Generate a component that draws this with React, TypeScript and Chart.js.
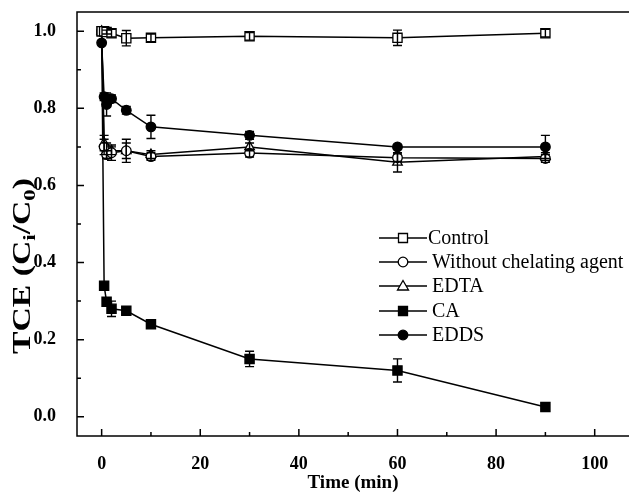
import React, { useEffect, useRef } from 'react';
import { Chart, registerables } from 'chart.js';

Chart.register(...registerables);

const times = [0, 0.5, 1, 2, 5, 10, 30, 60, 90];

const controlValues = [1.0, 1.0, 0.998, 0.995, 0.982, 0.983, 0.987, 0.983, 0.995];
const controlErrors = [0, 0, 0.005, 0.01, 0.02, 0.01, 0.01, 0.02, 0.01];

const withoutValues = [1.0, 0.7, 0.68, 0.685, 0.69, 0.675, 0.684, 0.672, 0.67];
const withoutErrors = [0, 0.02, 0.01, 0.02, 0.03, 0.01, 0.01, 0.01, 0.01];

const edtaValues = [1.0, 0.71, 0.69, 0.69, 0.69, 0.68, 0.7, 0.66, 0.675];
const edtaErrors = [0, 0.02, 0.02, 0.01, 0.02, 0.01, 0.01, 0.025, 0.01];

const caValues = [1.0, 0.34, 0.298, 0.28, 0.275, 0.24, 0.15, 0.12, 0.025];
const caErrors = [0, 0, 0.01, 0.02, 0.01, 0.01, 0.02, 0.03, 0.005];

const eddsValues = [0.97, 0.83, 0.81, 0.825, 0.795, 0.752, 0.73, 0.7, 0.7];
const eddsErrors = [0, 0.01, 0.03, 0.01, 0.01, 0.03, 0.01, 0.005, 0.03];

const seriesNames = ['Control', 'Without chelating agent', 'EDTA', 'CA', 'EDDS'];

const xMajorTicks = [0, 20, 40, 60, 80, 100];
const xMinorTicks = [10, 30, 50, 70, 90];
const yMajorTicks = [0, 0.2, 0.4, 0.6, 0.8, 1.0];
const yMinorTicks = [0.1, 0.3, 0.5, 0.7, 0.9];

const xTitle = 'Time (min)';

const SERIF = '"Liberation Serif", "Times New Roman", serif';

type Style = { shape: 'rect' | 'circle' | 'triangle'; filled: boolean };
const styles: Style[] = [
  { shape: 'rect', filled: false },
  { shape: 'circle', filled: false },
  { shape: 'triangle', filled: false },
  { shape: 'rect', filled: true },
  { shape: 'circle', filled: true },
];

const valueSets = [controlValues, withoutValues, edtaValues, caValues, eddsValues];
const errorSets = [controlErrors, withoutErrors, edtaErrors, caErrors, eddsErrors];

function drawMarker(ctx: CanvasRenderingContext2D, x: number, y: number, s: Style) {
  ctx.save();
  ctx.lineWidth = 1.3;
  ctx.strokeStyle = '#000';
  ctx.fillStyle = s.filled ? '#000' : '#fff';
  ctx.beginPath();
  if (s.shape === 'rect') {
    ctx.rect(x - 4.5, y - 4.5, 9, 9);
  } else if (s.shape === 'circle') {
    ctx.arc(x, y, 4.8, 0, Math.PI * 2);
  } else {
    ctx.moveTo(x, y - 5.5);
    ctx.lineTo(x + 5.5, y + 4);
    ctx.lineTo(x - 5.5, y + 4);
    ctx.closePath();
  }
  ctx.fill();
  ctx.stroke();
  ctx.restore();
}

const decorPlugin = {
  id: 'decor',
  afterDatasetsDraw(chart: any) {
    const ctx: CanvasRenderingContext2D = chart.ctx;
    const ys = chart.scales.y;
    ctx.save();
    ctx.strokeStyle = '#000';
    ctx.lineWidth = 1.4;
    chart.data.datasets.forEach((ds: any, i: number) => {
      const meta = chart.getDatasetMeta(i);
      const errs: number[] = ds.errors || [];
      meta.data.forEach((pt: any, j: number) => {
        const e = errs[j];
        if (!e) return;
        const v = ds.data[j].y;
        const y1 = ys.getPixelForValue(v + e);
        const y2 = ys.getPixelForValue(v - e);
        ctx.beginPath();
        ctx.moveTo(pt.x, y1);
        ctx.lineTo(pt.x, y2);
        ctx.moveTo(pt.x - 4.5, y1);
        ctx.lineTo(pt.x + 4.5, y1);
        ctx.moveTo(pt.x - 4.5, y2);
        ctx.lineTo(pt.x + 4.5, y2);
        ctx.stroke();
      });
    });
    ctx.restore();
  },
  afterDraw(chart: any) {
    const ctx: CanvasRenderingContext2D = chart.ctx;
    const { left, right, top, bottom } = chart.chartArea;
    const xs = chart.scales.x;
    const ys = chart.scales.y;
    ctx.save();
    ctx.strokeStyle = '#000';
    ctx.lineWidth = 1.5;
    ctx.strokeRect(left, top, right - left, bottom - top);
    ctx.beginPath();
    xMajorTicks.forEach((t) => {
      const px = xs.getPixelForValue(t);
      ctx.moveTo(px, bottom);
      ctx.lineTo(px, bottom - 7);
    });
    xMinorTicks.forEach((t) => {
      const px = xs.getPixelForValue(t);
      ctx.moveTo(px, bottom);
      ctx.lineTo(px, bottom - 4);
    });
    yMajorTicks.forEach((t) => {
      const py = ys.getPixelForValue(t);
      ctx.moveTo(left, py);
      ctx.lineTo(left + 7, py);
    });
    yMinorTicks.forEach((t) => {
      const py = ys.getPixelForValue(t);
      ctx.moveTo(left, py);
      ctx.lineTo(left + 4, py);
    });
    ctx.stroke();

    // x-axis title
    ctx.fillStyle = '#000';
    ctx.font = `bold 19px ${SERIF}`;
    ctx.textAlign = 'center';
    ctx.textBaseline = 'middle';
    ctx.fillText(xTitle, 353, 483);
    ctx.textAlign = 'left';

    // y-axis title with subscripts
    ctx.save();
    ctx.translate(24, 266);
    ctx.rotate(-Math.PI / 2);
    ctx.fillStyle = '#000';
    ctx.textBaseline = 'middle';
    const big = `bold 25px ${SERIF}`;
    const small = `bold 17px ${SERIF}`;
    const parts: [string, boolean][] = [['TCE (C', false], ['i', true], ['/C', false], ['0', true], [')', false]];
    let total = 0;
    parts.forEach(([t, sub]) => {
      ctx.font = sub ? small : big;
      total += ctx.measureText(t).width;
    });
    const targetLen = 176;
    ctx.scale(targetLen / total, 1);
    let cx = -total / 2;
    parts.forEach(([t, sub]) => {
      ctx.font = sub ? small : big;
      ctx.fillText(t, cx, sub ? 7 : 0);
      cx += ctx.measureText(t).width;
    });
    ctx.restore();

    // legend
    const rowY = [238, 262, 286, 311, 335];
    seriesNames.forEach((name, i) => {
      const y = rowY[i];
      ctx.beginPath();
      ctx.lineWidth = 1.4;
      ctx.strokeStyle = '#000';
      ctx.moveTo(379, y);
      ctx.lineTo(427, y);
      ctx.stroke();
      drawMarker(ctx, 403, y, styles[i]);
      ctx.fillStyle = '#000';
      ctx.font = `20px ${SERIF}`;
      ctx.textBaseline = 'middle';
      ctx.fillText(name, i === 0 ? 428 : 432, y + 1);
    });
    ctx.restore();
  },
};

export default function App() {
  const ref = useRef<HTMLCanvasElement | null>(null);
  useEffect(() => {
    if (!ref.current) return;
    const datasets = seriesNames.map((name, i) => {
      const s = styles[i];
      return {
        label: name,
        data: times.map((t, j) => ({ x: t, y: valueSets[i][j] })),
        errors: errorSets[i],
        borderColor: '#000',
        borderWidth: 1.5,
        backgroundColor: s.filled ? '#000' : '#fff',
        pointBackgroundColor: s.filled ? '#000' : '#fff',
        pointBorderColor: '#000',
        pointBorderWidth: 1.3,
        pointStyle: s.shape === 'rect' ? 'rect' : s.shape === 'circle' ? 'circle' : 'triangle',
        pointRadius: s.shape === 'rect' ? 6.5 : s.shape === 'circle' ? 4.8 : 5.5,
        showLine: true,
        tension: 0,
        fill: false,
      };
    });
    const noPad = (scale: any) => {
      scale.paddingTop = 0;
      scale.paddingBottom = 0;
      scale.paddingLeft = 0;
      scale.paddingRight = 0;
    };
    const chart = new Chart(ref.current, {
      type: 'line',
      data: { datasets } as any,
      options: {
        animation: false,
        responsive: false,
        maintainAspectRatio: false,
        layout: { padding: { top: 12, right: 16, left: 0, bottom: 0 } },
        plugins: { legend: { display: false }, tooltip: { enabled: false } },
        scales: {
          x: {
            type: 'linear',
            min: -5,
            max: 110,
            grid: { display: false },
            border: { display: false },
            ticks: {
              stepSize: 20,
              includeBounds: false,
              color: '#000',
              padding: 10,
              maxRotation: 0,
              font: { family: SERIF, size: 18, weight: 'bold' },
            },
            afterFit: (scale: any) => {
              scale.height = 60;
              noPad(scale);
            },
          },
          y: {
            type: 'linear',
            min: -0.05,
            max: 1.05,
            grid: { display: false },
            border: { display: false },
            ticks: {
              stepSize: 0.2,
              includeBounds: false,
              color: '#000',
              padding: 13,
              font: { family: SERIF, size: 18, weight: 'bold' },
              callback: (v: any) => Number(v).toFixed(1),
            },
            afterFit: (scale: any) => {
              scale.width = 77;
              noPad(scale);
            },
          },
        },
      } as any,
      plugins: [decorPlugin],
    });
    return () => chart.destroy();
  }, []);
  return (
    <div style={{ position: 'fixed', left: 0, top: 0, width: 629, height: 496, overflow: 'hidden', background: '#fff' }}>
      <canvas ref={ref} width={660} height={496} style={{ width: 660, height: 496, display: 'block' }} />
    </div>
  );
}
